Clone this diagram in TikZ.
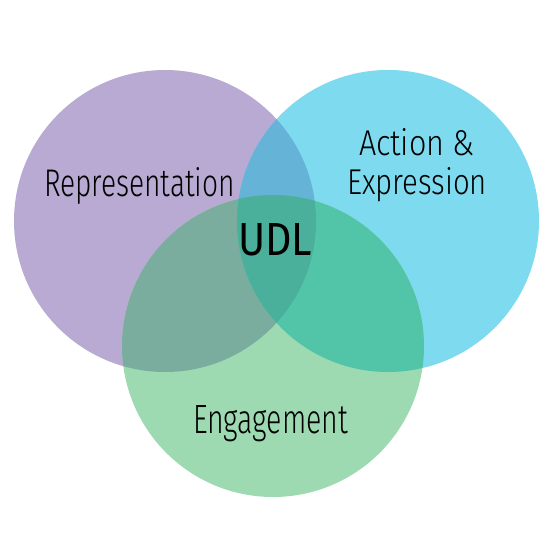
\documentclass[tikz,border=0pt]{standalone}
\usepackage{fontspec}
\newfontfamily\handlight{Fira Sans Light}
\newfontfamily\handreg{Fira Sans}
\usepackage{graphicx}
\definecolor{cP}{HTML}{B8AAD2}
\definecolor{cB}{HTML}{7DDAEF}
\definecolor{cG}{HTML}{9DDAB2}
\definecolor{cPB}{HTML}{66B3D8}
\definecolor{cPG}{HTML}{7AAD9E}
\definecolor{cBG}{HTML}{52C5A9}
\definecolor{cPBG}{HTML}{4AAF9B}
\tikzset{
  lbl/.style={anchor=base west, inner sep=0pt, outer sep=0pt, text=black, font=\handlight\fontsize{40}{40}\selectfont},
  lblb/.style={anchor=base west, inner sep=0pt, outer sep=0pt, text=black, font=\handreg\fontsize{40}{40}\selectfont}
}
\begin{document}
\begin{tikzpicture}[x=1pt,y=-1pt]
\useasboundingbox (0,0) rectangle (554,554);
\def\R{151}
\coordinate (P) at (165,221);
\coordinate (B) at (388,221);
\coordinate (G) at (273,346);
\fill[cP] (P) circle (\R);
\fill[cB] (B) circle (\R);
\fill[cG] (G) circle (\R);
\begin{scope}
  \clip (P) circle (\R);
  \fill[cPG] (G) circle (\R);
  \fill[cPB] (B) circle (\R);
\end{scope}
\begin{scope}
  \clip (B) circle (\R);
  \fill[cBG] (G) circle (\R);
\end{scope}
\begin{scope}
  \clip (P) circle (\R);
  \clip (B) circle (\R);
  \fill[cPBG] (G) circle (\R);
\end{scope}
\node[lbl] (rep) at (44,196) {\resizebox{191pt}{29pt}{Representation}};
\node[lbl] (act) at (359,155) {\resizebox{116pt}{27pt}{Action \&}};
\node[lbl] (exp) at (347,194) {\resizebox{140pt}{27pt}{Expression}};
\node[lbl] (eng) at (193,433) {\resizebox{155pt}{28pt}{Engagement}};
\node[lblb] (udl) at (238,255) {\resizebox{74pt}{32pt}{UDL}};
\end{tikzpicture}
\end{document}
